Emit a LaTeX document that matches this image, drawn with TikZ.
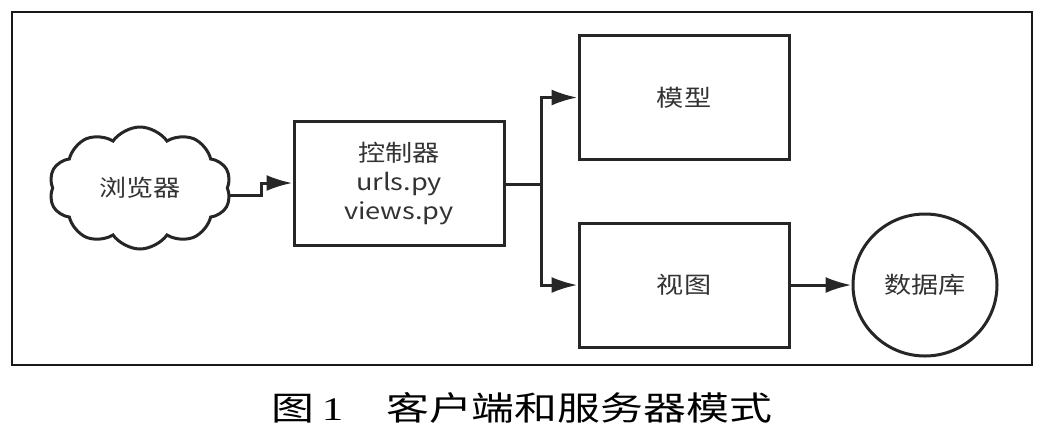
\documentclass[tikz,border=0pt]{standalone}
\usepackage{fontspec}
\usepackage{graphicx}
\setmainfont{Noto Sans CJK SC}
\newfontfamily\capfont{Noto Sans CJK SC}
\newfontfamily\numfont{Liberation Serif}
\newcommand{\wide}[1]{\scalebox{1.18}[1]{#1}}
\usetikzlibrary{shapes.symbols,shapes.geometric,arrows.meta}
\begin{document}
\begin{tikzpicture}[x=1pt,y=-1pt,
  box/.style={draw=black!85,line width=3pt,minimum width=210pt,minimum height=124pt,align=center,font=\fontsize{23}{29}\selectfont,text=black!80,inner sep=0pt},
  conn/.style={draw=black!85,line width=3pt,-{Latex[length=26pt,width=16pt]}},
  txt/.style={font=\fontsize{23}{29}\selectfont,text=black!80}]
\useasboundingbox (0,0) rectangle (1047,440);
\fill[white] (0,0) rectangle (1047,440);
\node[draw=black!90,line width=2.6pt,minimum width=1020pt,minimum height=353pt,inner sep=0pt] (frame) at (522,188.5) {};
\node[cloud,cloud puffs=10,cloud puff arc=110,aspect=1.5,draw=black!85,line width=3pt,minimum width=182pt,minimum height=122pt,inner sep=0pt,txt] (cloud) at (140,188) {};
\node[txt] (cloudtxt) at (cloud.center) {\wide{浏览器}};
\node[box] (ctrl) at (399,183.5) {\wide{控制器}\\\wide{urls.py}\\\wide{views.py}};
\node[box] (model) at (684,97.5) {\wide{模型}};
\node[box] (view) at (684,285) {\wide{视图}};
\node[draw=black!85,line width=3pt,ellipse,minimum width=144pt,minimum height=142pt,inner sep=0pt,txt] (db) at (925,285) {\wide{数据库}};
\coordinate (c1) at (261,195);
\coordinate (c2) at (261,183);
\coordinate (b) at (541,184);
\draw[conn] (cloud.east |- c1) -- (c1) -- (c2) -- (ctrl.west |- c2);
\draw[draw=black!85,line width=3pt] (ctrl.east |- b) -- (b);
\draw[conn] (b) |- (model.west);
\draw[conn] (b) |- (view.west);
\draw[conn] (view.east) -- (db.west);
\node[font=\capfont\fontsize{33}{40}\selectfont] (cap) at (522,408) {\scalebox{1.3}[1]{图\,{\numfont 1}\quad 客户端和服务器模式}};
\end{tikzpicture}
\end{document}
